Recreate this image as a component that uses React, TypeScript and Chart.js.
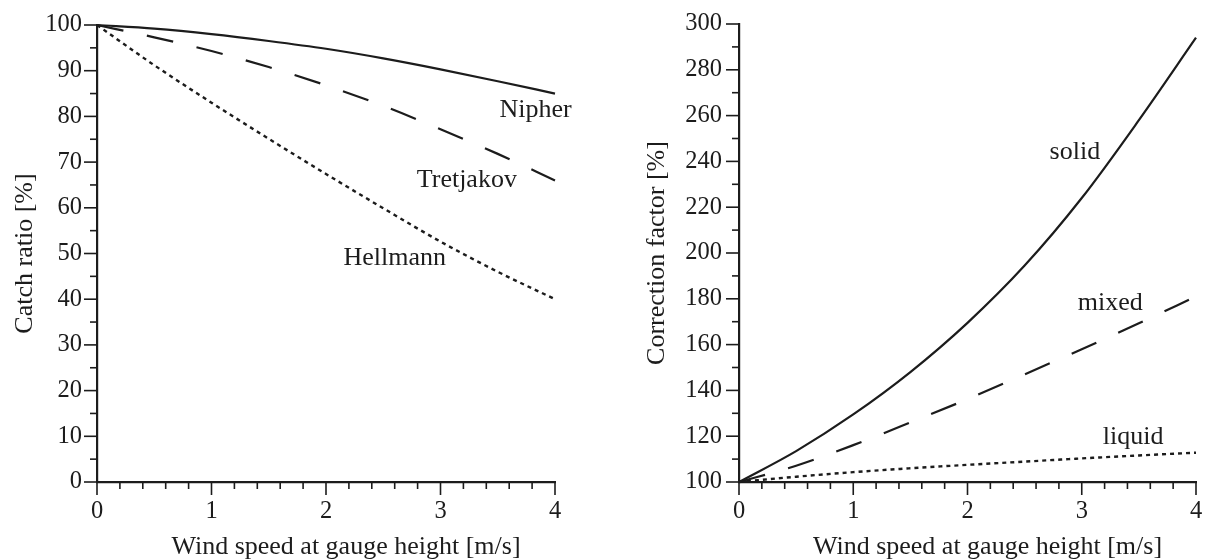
import React, { useEffect, useRef } from 'react';
import { Chart, registerables } from 'chart.js';

Chart.register(...registerables);

// ---- data ----
const windSpeed = [0, 0.5, 1, 1.5, 2, 2.5, 3, 3.5, 4];

const nipher = [100, 99.2, 98.0, 96.5, 94.8, 92.7, 90.3, 87.7, 85.0];
const tretjakov = [100, 97.3, 94.3, 90.8, 86.8, 82.3, 77.2, 71.8, 66.0];
const hellmann = [100, 91.2, 83.0, 75.1, 67.4, 59.9, 52.6, 46.0, 40.0];

const solid = [100, 113.5, 129.5, 148, 169.5, 194.5, 224, 258, 294];
const mixed = [100, 107.1, 116.1, 126.0, 136.2, 147.0, 158.0, 169.3, 181.0];
const liquid = [100, 102.3, 104.3, 106.0, 107.5, 108.9, 110.3, 111.6, 112.8];

const xTickLabels = ['0', '1', '2', '3', '4'];
const catchTickLabels = ['0', '10', '20', '30', '40', '50', '60', '70', '80', '90', '100'];
const corrTickLabels = ['100', '120', '140', '160', '180', '200', '220', '240', '260', '280', '300'];

const xTitle = 'Wind speed at gauge height [m/s]';
const leftTitle = 'Catch ratio [%]';
const rightTitle = 'Correction factor [%]';

// curve labels anchored in data units
const leftNames = ['Nipher', 'Tretjakov', 'Hellmann'];
const leftNameX = [3.83, 3.23, 2.6];
const leftNameY = [81.4, 66.1, 49.0];
const rightNames = ['solid', 'mixed', 'liquid'];
const rightNameX = [2.94, 3.25, 3.45];
const rightNameY = [244.2, 177.9, 119.7];

// ---- styles ----
const FONT = '"Liberation Serif", "Times New Roman", serif';
const INK = '#1c1c1c';

const outerTicks = {
  id: 'outerTicks',
  afterDraw(chart: any, _args: any, opts: any) {
    const ctx = chart.ctx;
    ctx.save();
    ctx.strokeStyle = INK;
    ctx.lineWidth = 1.6;
    for (const axis of ['x', 'y']) {
      const s = chart.scales[axis];
      const o = opts[axis];
      const n = Math.round((s.max - s.min) / o.minor);
      for (let i = 0; i <= n; i++) {
        const v = s.min + i * o.minor;
        const r = v / o.major;
        const isMajor = Math.abs(r - Math.round(r)) < 1e-6;
        const len = isMajor ? 13 : 7;
        const p = s.getPixelForValue(v);
        ctx.beginPath();
        if (axis === 'x') {
          ctx.moveTo(p, s.top);
          ctx.lineTo(p, s.top + len);
        } else {
          ctx.moveTo(s.right, p);
          ctx.lineTo(s.right - len, p);
        }
        ctx.stroke();
      }
    }
    ctx.restore();
  },
};

const curveLabels = {
  id: 'curveLabels',
  afterDraw(chart: any, _args: any, opts: any) {
    const ctx = chart.ctx;
    ctx.save();
    ctx.fillStyle = INK;
    ctx.font = `${opts.size}px ${FONT}`;
    ctx.textAlign = 'center';
    ctx.textBaseline = 'middle';
    opts.names.forEach((t: string, i: number) => {
      const px = chart.scales.x.getPixelForValue(opts.xs[i]);
      const py = chart.scales.y.getPixelForValue(opts.ys[i]);
      ctx.fillText(t, px, py);
    });
    ctx.restore();
  },
};

const axisTitles = {
  id: 'axisTitles',
  afterDraw(chart: any, _args: any, opts: any) {
    const ctx = chart.ctx;
    const ca = chart.chartArea;
    ctx.save();
    ctx.fillStyle = INK;
    ctx.font = `${opts.size}px ${FONT}`;
    ctx.textAlign = 'center';
    ctx.textBaseline = 'alphabetic';
    ctx.fillText(opts.xText, (ca.left + ca.right) / 2 + opts.xShift, opts.xBase);
    ctx.translate(opts.yBase, (ca.top + ca.bottom) / 2);
    ctx.rotate(-Math.PI / 2);
    ctx.fillText(opts.yText, 0, 0);
    ctx.restore();
  },
};

function series(ys: number[], dash: number[], width: number) {
  return {
    data: windSpeed.map((x, i) => ({ x, y: ys[i] })),
    borderColor: INK,
    borderWidth: width,
    borderDash: dash,
    pointRadius: 0,
    cubicInterpolationMode: 'monotone' as const,
    fill: false,
    clip: false as any,
  };
}

function makeConfig(p: {
  sets: number[][];
  yMin: number;
  yMax: number;
  yStep: number;
  yMinor: number;
  yLabels: string[];
  yTitle: string;
  yWidth: number;
  yTitleBase: number;
  yLabelPad: number;
  padTop: number;
  padRight: number;
  names: string[];
  nx: number[];
  ny: number[];
}) {
  const dashes = [[], [27, 24], [4, 4]];
  const widths = [2.2, 2.2, 2.4];
  return {
    type: 'line' as const,
    data: {
      datasets: p.sets.map((s, i) => series(s, dashes[i], widths[i])),
    },
    plugins: [outerTicks, curveLabels, axisTitles],
    options: {
      animation: false as const,
      responsive: false,
      events: [],
      layout: { padding: { left: 0, top: p.padTop, right: p.padRight, bottom: 0 } },
      plugins: {
        legend: { display: false },
        tooltip: { enabled: false },
        outerTicks: {
          x: { minor: 0.2, major: 1 },
          y: { minor: p.yMinor, major: p.yStep },
        },
        curveLabels: { names: p.names, xs: p.nx, ys: p.ny, size: 26 },
        axisTitles: {
          xText: xTitle,
          yText: p.yTitle,
          size: 26,
          xShift: 20,
          xBase: 554,
          yBase: p.yTitleBase,
        },
      },
      scales: {
        x: {
          type: 'linear' as const,
          min: 0,
          max: 4,
          grid: { display: false, drawTicks: false },
          border: { display: true, color: INK, width: 2.2 },
          ticks: {
            stepSize: 1,
            padding: 15,
            color: INK,
            font: { family: FONT, size: 24.5 },
            maxRotation: 0,
            callback: (_v: any, i: number) => xTickLabels[i],
          },
          title: { display: false },
          afterFit: (s: any) => {
            s.height = 77;
            s.paddingLeft = 0;
            s.paddingRight = 0;
          },
        },
        y: {
          type: 'linear' as const,
          min: p.yMin,
          max: p.yMax,
          grid: { display: false, drawTicks: false },
          border: { display: true, color: INK, width: 2.2 },
          ticks: {
            stepSize: p.yStep,
            padding: p.yLabelPad,
            color: INK,
            font: { family: FONT, size: 24.5 },
            callback: (_v: any, i: number) => p.yLabels[i],
          },
          title: { display: false },
          afterFit: (s: any) => {
            s.width = p.yWidth;
            s.paddingTop = 0;
            s.paddingBottom = 0;
          },
        },
      },
    },
  };
}

function Panel({ left, width, config }: { left: number; width: number; config: any }) {
  const ref = useRef<HTMLCanvasElement>(null);
  useEffect(() => {
    if (!ref.current) return;
    const chart = new Chart(ref.current, config);
    return () => chart.destroy();
  }, []);
  return (
    <canvas
      ref={ref}
      width={width}
      height={559}
      style={{ position: 'absolute', left, top: 0, width, height: 559 }}
    />
  );
}

export default function App() {
  const leftCfg = makeConfig({
    sets: [nipher, tretjakov, hellmann],
    yMin: 0,
    yMax: 100,
    yStep: 10,
    yMinor: 5,
    yLabels: catchTickLabels,
    yTitle: leftTitle,
    yWidth: 97,
    yTitleBase: 32,
    yLabelPad: 15,
    padTop: 25,
    padRight: 45,
    names: leftNames,
    nx: leftNameX,
    ny: leftNameY,
  });
  const rightCfg = makeConfig({
    sets: [solid, mixed, liquid],
    yMin: 100,
    yMax: 300,
    yStep: 20,
    yMinor: 10,
    yLabels: corrTickLabels,
    yTitle: rightTitle,
    yWidth: 139,
    yTitleBase: 64,
    yLabelPad: 17,
    padTop: 24,
    padRight: 11,
    names: rightNames,
    nx: rightNameX,
    ny: rightNameY,
  });
  return (
    <div
      style={{
        position: 'absolute',
        left: 0,
        top: 0,
        width: 1207,
        height: 559,
        background: '#ffffff',
        overflow: 'hidden',
      }}
    >
      <Panel left={0} width={600} config={leftCfg} />
      <Panel left={600} width={607} config={rightCfg} />
    </div>
  );
}
